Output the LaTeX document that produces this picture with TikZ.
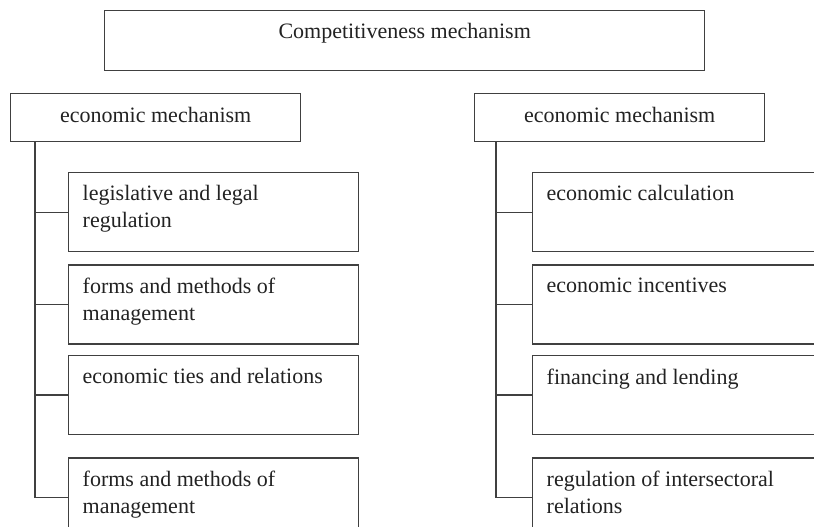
\documentclass[tikz,border=0pt]{standalone}
\usepackage{fontspec}
\setmainfont{Liberation Serif}
\usepackage{tikz}
\usetikzlibrary{positioning}
\definecolor{frame}{RGB}{64,64,64}
\definecolor{ink}{RGB}{34,34,34}
\newcommand{\boxtext}[1]{\parbox[t][26.5pt][t]{131pt}{\raggedright #1}}

\begin{document}
\begin{tikzpicture}[
  x=0.5pt, y=-0.5pt,
  font=\fontsize{11}{13.5}\selectfont, text=ink,
  topbox/.style={draw=frame, line width=0.7pt, anchor=north west, inner xsep=7pt, inner ysep=6.5pt},
  head/.style={draw=frame, line width=0.7pt, anchor=north west, minimum width=145pt, minimum height=24pt, text height=7.5pt, text depth=2.5pt},
  item/.style={draw=frame, line width=0.7pt, inner xsep=7pt, inner ysep=6.5pt},
  link/.style={draw=frame, line width=0.7pt}
]
\useasboundingbox (0,0) rectangle (814,526);
\clip (0,0) rectangle (814,526);

\node[topbox] (comp) at (104,10) {\parbox[t][17pt][t]{286pt}{\centering Competitiveness mechanism}};
\node[head] (econL) at (10,93) {economic mechanism};
\node[head] (econR) at (474,93) {economic mechanism};

% left branch
\node[item, anchor=north west] (legal) at (68,172) {\boxtext{legislative and legal\\regulation}};
\node[item, below=6pt of legal] (forms) {\boxtext{forms and methods of\\management}};
\node[item, below=5pt of forms] (ties) {\boxtext{economic ties and relations}};
\node[item, below=11pt of ties] (formsB) {\boxtext{forms and methods of\\management}};

% right branch
\node[item, anchor=north west] (calc) at (532,172) {\boxtext{economic calculation}};
\node[item, below=6pt of calc] (incent) {\boxtext{economic incentives}};
\node[item, below=5pt of incent] (finance) {\boxtext{financing and lending}};
\node[item, below=11pt of finance] (regul) {\boxtext{regulation of intersectoral\\relations}};

\coordinate (trunkL) at ([xshift=12.5pt]econL.south west);
\coordinate (trunkR) at ([xshift=11pt]econR.south west);

\draw[link] (trunkL) |- (formsB.west);
\foreach \n in {legal,forms,ties}
  \draw[link] (trunkL |- \n.west) -- (\n.west);
\draw[link] (trunkR) |- (regul.west);
\foreach \n in {calc,incent,finance}
  \draw[link] (trunkR |- \n.west) -- (\n.west);
\end{tikzpicture}
\end{document}
